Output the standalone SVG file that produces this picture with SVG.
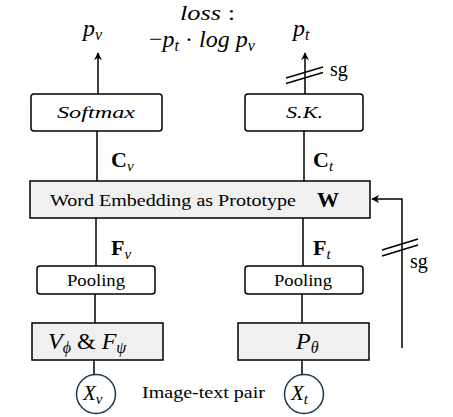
<svg xmlns="http://www.w3.org/2000/svg" width="453" height="417" viewBox="0 0 453 417">
<style>
text{font-family:"Liberation Serif","Times New Roman",serif;fill:#000}
.i{font-style:italic}
.b{font-weight:bold}
.box{fill:#fff;stroke:#000;stroke-width:1.5}
.gbox{fill:#f0f0f0;stroke:#000;stroke-width:1.5}
.ln{stroke:#000;stroke-width:1.5;fill:none}
.circ{fill:#fff;stroke:#1b3b4b;stroke-width:1.5}
</style>
<defs>
<marker id="ah" viewBox="0 0 10 10" refX="9" refY="5" markerWidth="8" markerHeight="8" markerUnits="userSpaceOnUse" orient="auto">
<path d="M0,0 L10,5 L0,10 L3,5 Z" fill="#000"/>
</marker>
</defs>
<g id="connectors">
<line class="ln" x1="98" y1="94" x2="98" y2="53" marker-end="url(#ah)"/>
<line class="ln" x1="305" y1="94" x2="305" y2="53" marker-end="url(#ah)"/>
<line class="ln" x1="286" y1="78" x2="323" y2="67"/>
<line class="ln" x1="286" y1="83.5" x2="323" y2="72.5"/>
<line class="ln" x1="97" y1="131" x2="97" y2="181"/>
<line class="ln" x1="304" y1="131" x2="304" y2="181"/>
<line class="ln" x1="96" y1="218" x2="96" y2="266"/>
<line class="ln" x1="303" y1="218" x2="303" y2="266"/>
<line class="ln" x1="95" y1="294" x2="95" y2="323"/>
<line class="ln" x1="302" y1="294" x2="302" y2="323"/>
<line class="ln" x1="94" y1="360" x2="94" y2="374"/>
<line class="ln" x1="302" y1="360" x2="302" y2="374"/>
<polyline class="ln" points="402,348 402,199 372,199" marker-end="url(#ah)"/>
<line class="ln" x1="382" y1="250" x2="418" y2="239"/>
<line class="ln" x1="382" y1="256" x2="418" y2="245"/>
</g>
<g id="labels">
<text x="83" y="36" font-size="24"><tspan class="i">p</tspan><tspan class="i" font-size="16" dy="4">v</tspan></text>
<text x="293" y="36" font-size="24"><tspan class="i">p</tspan><tspan class="i" font-size="16" dy="4">t</tspan></text>
<text x="180" y="20" font-size="21" textLength="55" lengthAdjust="spacingAndGlyphs"><tspan class="i">loss</tspan> :</text>
<text x="149" y="47" font-size="24"><tspan>−</tspan><tspan class="i">p</tspan><tspan class="i" font-size="16" dy="4">t</tspan><tspan dy="-4"> · </tspan><tspan class="i">log </tspan><tspan class="i">p</tspan><tspan class="i" font-size="16" dy="4">v</tspan></text>
<text x="330" y="76" font-size="20">sg</text>
<text x="410" y="268" font-size="20">sg</text>
<text x="111" y="167" font-size="22"><tspan class="b">C</tspan><tspan class="i" font-size="15" dy="4">v</tspan></text>
<text x="313" y="167" font-size="22"><tspan class="b">C</tspan><tspan class="i" font-size="15" dy="4">t</tspan></text>
<text x="111" y="255" font-size="22"><tspan class="b">F</tspan><tspan class="i" font-size="15" dy="4">v</tspan></text>
<text x="313" y="255" font-size="22"><tspan class="b">F</tspan><tspan class="i" font-size="15" dy="4">t</tspan></text>
<text x="142" y="398" font-size="16" textLength="123" lengthAdjust="spacingAndGlyphs">Image-text pair</text>
</g>
<g id="softmax">
<rect class="box" x="31" y="94" width="131" height="37" rx="3"/>
<text x="57" y="118" font-size="17" class="i" textLength="78" lengthAdjust="spacingAndGlyphs">Softmax</text>
</g>
<g id="sk">
<rect class="box" x="245" y="94" width="118" height="37" rx="3"/>
<text x="286" y="118" font-size="17" class="i" textLength="37" lengthAdjust="spacingAndGlyphs">S.K.</text>
</g>
<g id="word-embedding">
<rect class="gbox" x="30" y="181" width="340" height="37"/>
<text x="50" y="206" font-size="17" textLength="246" lengthAdjust="spacingAndGlyphs">Word Embedding as Prototype</text>
<text x="317" y="207" font-size="22" class="b">W</text>
</g>
<g id="pooling-v">
<rect class="box" x="37" y="266" width="118" height="28" rx="3"/>
<text x="67" y="286" font-size="16" textLength="58" lengthAdjust="spacingAndGlyphs">Pooling</text>
</g>
<g id="pooling-t">
<rect class="box" x="245" y="266" width="118" height="28" rx="3"/>
<text x="274" y="286" font-size="16" textLength="58" lengthAdjust="spacingAndGlyphs">Pooling</text>
</g>
<g id="encoder-v">
<rect class="gbox" x="32" y="323" width="131" height="37"/>
<text x="48" y="349" font-size="24"><tspan class="i">V</tspan><tspan class="i" font-size="16" dy="4">ϕ</tspan><tspan dy="-4"> &amp; </tspan><tspan class="i">F</tspan><tspan class="i" font-size="16" dy="4">ψ</tspan></text>
</g>
<g id="encoder-t">
<rect class="gbox" x="238" y="323" width="131" height="37"/>
<text x="296" y="349" font-size="24"><tspan class="i">P</tspan><tspan class="i" font-size="16" dy="4">θ</tspan></text>
</g>
<g id="xv">
<circle class="circ" cx="96" cy="394" r="19.5"/>
<text x="83" y="400" font-size="21"><tspan class="i">X</tspan><tspan class="i" font-size="15" dy="4">v</tspan></text>
</g>
<g id="xt">
<circle class="circ" cx="304" cy="394" r="19.5"/>
<text x="291" y="400" font-size="21"><tspan class="i">X</tspan><tspan class="i" font-size="15" dy="4">t</tspan></text>
</g>
</svg>
